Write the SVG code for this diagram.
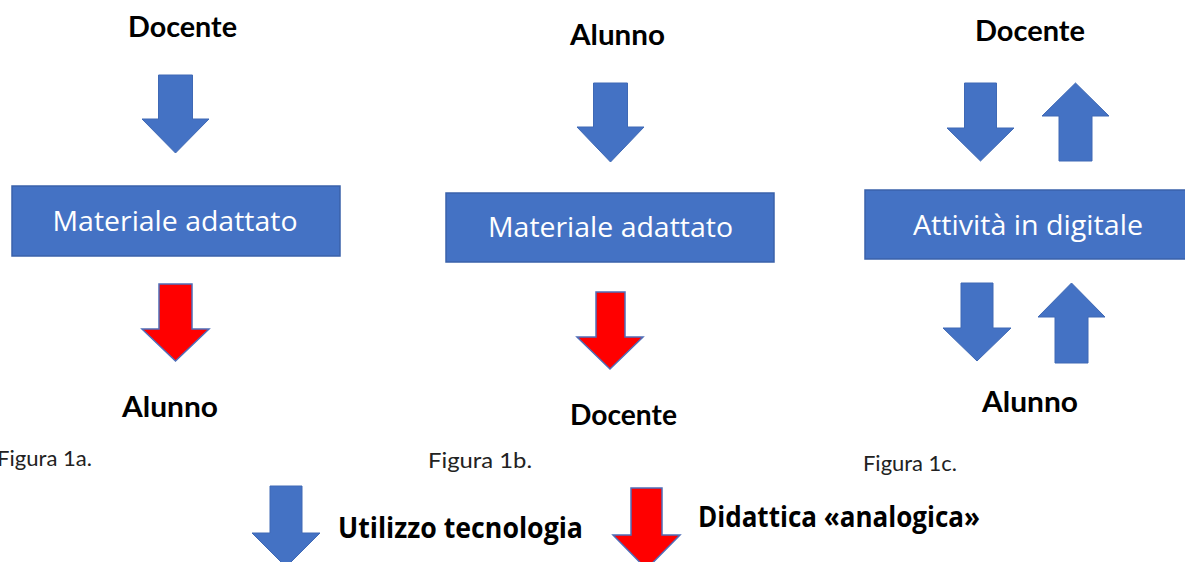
<svg xmlns="http://www.w3.org/2000/svg" width="1185" height="562" viewBox="0 0 1185 562">
<style>
.lbl{font-family:Lato,"Open Sans","Liberation Sans",sans-serif;font-weight:700;font-size:28px;fill:#000;text-anchor:middle}
.fig{font-family:Lato,"Open Sans","Liberation Sans",sans-serif;font-weight:400;font-size:21px;fill:#222}
.box{fill:#4472C4;stroke:#3A62AA;stroke-width:1.5}
.btxt{font-family:"Open Sans","Noto Sans","Liberation Sans",sans-serif;font-size:28px;fill:#fff;text-anchor:middle}
.leg{font-family:"Open Sans","Noto Sans","Liberation Sans",sans-serif;font-weight:700;font-size:28px;fill:#000}
.ab{fill:#4472C4;stroke:#3F69B5;stroke-width:1}
.ar{fill:#FF0000;stroke:#4F6DB8;stroke-width:1.5}
</style>
<rect width="1185" height="562" fill="#fff"/>
<g id="connectors">
<path class="ab" d="M158.5 75 H192.5 V119 H209 L175.5 153 L142 119 H158.5 Z"/>
<path class="ar" d="M159 284 H192 V329 H209 L175.5 361 L142 329 H159 Z"/>
<path class="ab" d="M593.5 83 H627.5 V127 H644 L610.5 162 L577 127 H593.5 Z"/>
<path class="ar" d="M596 292 H625 V337 H643 L610 369 L577 337 H596 Z"/>
<path class="ab" d="M964.5 83 H996.5 V128 H1014 L980.5 161 L947 128 H964.5 Z"/>
<path class="ab" d="M1059 161 H1092 V116 H1109 L1075.5 83 L1042 116 H1059 Z"/>
<path class="ab" d="M961 283 H993 V328 H1011 L977 361 L943 328 H961 Z"/>
<path class="ab" d="M1055 363 H1088 V317 H1105 L1071.5 283 L1038 317 H1055 Z"/>
</g>
<g id="fig1a">
<text class="lbl" x="182.5" y="37" textLength="109" lengthAdjust="spacingAndGlyphs">Docente</text>
<g id="box1a"><rect class="box" x="12" y="186" width="328" height="70"/>
<text class="btxt" x="175" y="231" textLength="245" lengthAdjust="spacingAndGlyphs">Materiale adattato</text></g>
<text class="lbl" x="170" y="417" textLength="96" lengthAdjust="spacingAndGlyphs">Alunno</text>
<text class="fig" x="-3" y="466" textLength="95" lengthAdjust="spacingAndGlyphs">Figura 1a.</text>
</g>
<g id="fig1b">
<text class="lbl" x="617.5" y="45" textLength="95" lengthAdjust="spacingAndGlyphs">Alunno</text>
<g id="box1b"><rect class="box" x="446" y="193" width="328" height="69"/>
<text class="btxt" x="610.5" y="237" textLength="245" lengthAdjust="spacingAndGlyphs">Materiale adattato</text></g>
<text class="lbl" x="623.5" y="425" textLength="107" lengthAdjust="spacingAndGlyphs">Docente</text>
<text class="fig" x="428" y="468" textLength="104" lengthAdjust="spacingAndGlyphs">Figura 1b.</text>
</g>
<g id="fig1c">
<text class="lbl" x="1030" y="41" textLength="110" lengthAdjust="spacingAndGlyphs">Docente</text>
<g id="box1c"><rect class="box" x="865" y="190" width="330" height="69"/>
<text class="btxt" x="1028" y="235" textLength="230" lengthAdjust="spacingAndGlyphs">Attività in digitale</text></g>
<text class="lbl" x="1030" y="412" textLength="96" lengthAdjust="spacingAndGlyphs">Alunno</text>
<text class="fig" x="863" y="471" textLength="94" lengthAdjust="spacingAndGlyphs">Figura 1c.</text>
</g>
<g id="legend">
<path class="ab" d="M270 486 H302 V533 H320 L286 567 L252 533 H270 Z"/>
<text class="leg" x="338" y="538" textLength="245" lengthAdjust="spacingAndGlyphs">Utilizzo tecnologia</text>
<path class="ar" d="M631 488 H662 V535 H680 L646.5 569 L613 535 H631 Z"/>
<text class="leg" x="698" y="527" textLength="282" lengthAdjust="spacingAndGlyphs">Didattica «analogica»</text>
</g>
</svg>
